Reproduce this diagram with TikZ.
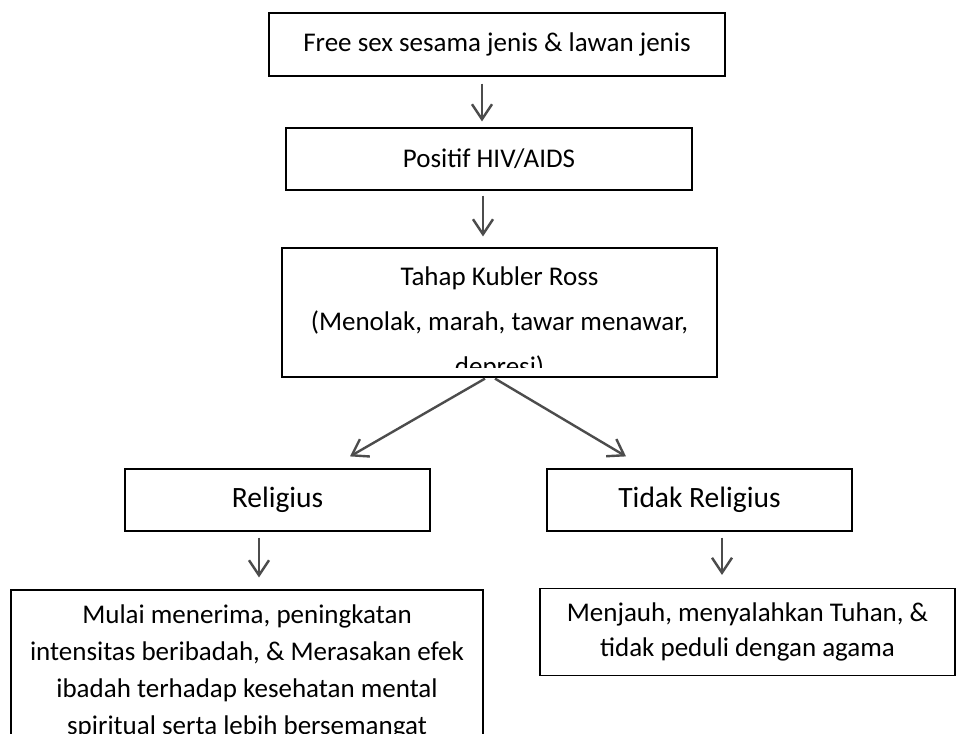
\documentclass[tikz,border=0pt]{standalone}
\usepackage{fontspec}
\setmainfont{Carlito}
\usetikzlibrary{arrows.meta}

\begin{document}
\begin{tikzpicture}[x=1pt, y=-1pt,
    box/.style={draw, rectangle, line width=1.2pt, inner sep=0pt, align=center, font=\fontsize{27}{35}\selectfont},
    inner/.style={anchor=north, align=center, inner sep=0pt, minimum width=0pt, minimum height=0pt, draw=none},
    arr/.style={-{Straight Barb[length=15pt, width=20pt]}, line width=2.4pt, draw=black!70}]
    \clip (0,0) rectangle (960,733);

    % Top chain
    \node[box, minimum width=456pt, minimum height=63pt] (free) at (497,44.5) {Free sex sesama jenis \& lawan jenis};
    \node[box, minimum width=406pt, minimum height=62pt] (hiv) at (489,159) {Positif HIV/AIDS};
    \node[box, minimum width=435pt, minimum height=129pt,
        path picture={\clip (path picture bounding box.north west) rectangle ([yshift=10pt]path picture bounding box.south east);
            \node[inner, font=\fontsize{27}{45}\selectfont]
            at ([yshift=-18pt]path picture bounding box.north) {Tahap Kubler Ross\\(Menolak, marah, tawar menawar,\\depresi)};}] (kubler) at (499.5,312.5) {};

    % Branches
    \node[box, minimum width=305pt, minimum height=62pt, font=\fontsize{29.5}{35}\selectfont] (rel) at (277.5,500) {Religius};
    \node[box, minimum width=305pt, minimum height=62pt, font=\fontsize{29.5}{35}\selectfont] (notrel) at (699.5,500) {Tidak Religius};

    % Outcomes
    \node[box, minimum width=472pt, minimum height=170pt,
        path picture={\node[inner, font=\fontsize{27}{37}\selectfont]
            at ([yshift=-14pt]path picture bounding box.north) {Mulai menerima, peningkatan\\intensitas beribadah, \& Merasakan efek\\ibadah terhadap kesehatan mental\\spiritual serta lebih bersemangat};}] (accept) at (247,675) {};
    \node[box, minimum width=415pt, minimum height=87pt] (away) at (747.5,632) {Menjauh, menyalahkan Tuhan, \&\\tidak peduli dengan agama};

    % Arrows
    \draw[arr] ([xshift=-15pt, yshift=-7pt]free.south) -- ([xshift=-7pt, yshift=6pt]hiv.north);
    \draw[arr] ([xshift=-6pt, yshift=-5pt]hiv.south) -- ([xshift=-16.5pt, yshift=11pt]kubler.north);
    \draw[arr] ([xshift=-14.5pt, yshift=-1pt]kubler.south) -- ([xshift=72.5pt, yshift=12pt]rel.north);
    \draw[arr] ([xshift=-4.5pt, yshift=-1pt]kubler.south) -- ([xshift=-73.5pt, yshift=12pt]notrel.north);
    \draw[arr] ([xshift=-18.5pt, yshift=-6pt]rel.south) -- ([xshift=12pt, yshift=12pt]accept.north);
    \draw[arr] ([xshift=22.5pt, yshift=-6pt]notrel.south) -- ([xshift=-25.5pt, yshift=13pt]away.north);
\end{tikzpicture}
\end{document}
